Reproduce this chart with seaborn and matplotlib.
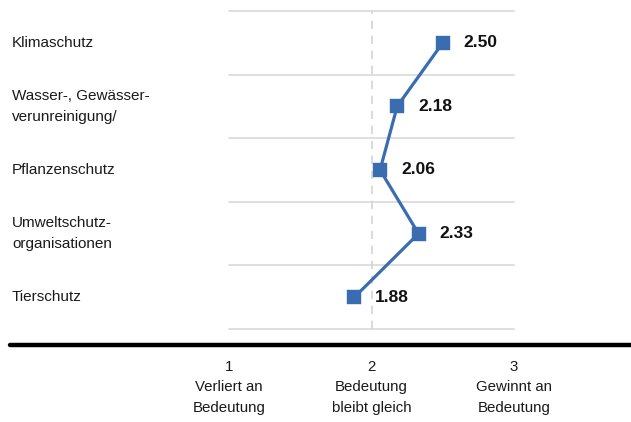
import matplotlib
matplotlib.use("Agg")
import matplotlib.pyplot as plt
from matplotlib.lines import Line2D
from matplotlib.transforms import blended_transform_factory
import seaborn as sns
import pandas as pd

categories = [
    "Klimaschutz",
    "Wasser-, Gewässer-\nverunreinigung/",
    "Pflanzenschutz",
    "Umweltschutz-\norganisationen",
    "Tierschutz",
]
values = [2.50, 2.18, 2.06, 2.33, 1.88]
tick_values = [1, 2, 3]
tick_labels = [
    "1\nVerliert an\nBedeutung",
    "2\nBedeutung\nbleibt gleich",
    "3\nGewinnt an\nBedeutung",
]

df = pd.DataFrame({"Thema": categories, "Wert": values})

sns.set_theme(style="white")
plt.rcParams["font.family"] = ["Liberation Sans", "DejaVu Sans"]

line_color = "#3a6db0"
grid_color = "#d9d9d9"

fig = plt.figure(figsize=(6.31, 4.22), dpi=100)
ax = fig.add_axes([229 / 631, 1 - 329 / 422, (514 - 229) / 631, (329 - 11) / 422])

sns.pointplot(
    data=df, x="Wert", y="Thema", orient="h", order=categories,
    color=line_color, markers="s", markersize=8, linewidth=2.3,
    errorbar=None, ax=ax,
)

ax.set_xlim(1, 3)
ax.set_ylim(len(categories) - 0.5, -0.5)

# separators between rows
for b in range(len(categories) + 1):
    ax.axhline(b - 0.5, color=grid_color, lw=1.2, zorder=0, clip_on=False)

# reference line at "bleibt gleich"
ax.axvline(2, color="#d4d4d4", lw=1.2, ls=(0, (5, 4)), zorder=0)

for s in ax.spines.values():
    s.set_visible(False)

# category labels, left aligned at the figure edge
trans = blended_transform_factory(fig.transFigure, ax.transData)
ax.set_yticks([])
ax.set_ylabel("")
for i, c in enumerate(categories):
    ax.text(12 / 631, i, c, transform=trans, ha="left", va="center",
            fontsize=11, color="#1a1a1a", linespacing=1.65)

# value labels
for i, v in enumerate(values):
    ax.annotate(f"{v:.2f}", xy=(v, i), xytext=(15, 0), textcoords="offset points",
                ha="left", va="center", fontsize=12.5, fontweight="bold", color="#111111")

ax.set_xticks(tick_values)
ax.set_xticklabels(tick_labels, fontsize=10.8, color="#1a1a1a", linespacing=1.6)
ax.tick_params(axis="x", length=0, pad=22)
ax.set_xlabel("")

# heavy rule above the scale labels
fig.add_artist(Line2D([10 / 631, 1.0], [1 - 345 / 422] * 2, color="black", lw=3.2,
                      transform=fig.transFigure))

fig.savefig("out.png", dpi=100)
